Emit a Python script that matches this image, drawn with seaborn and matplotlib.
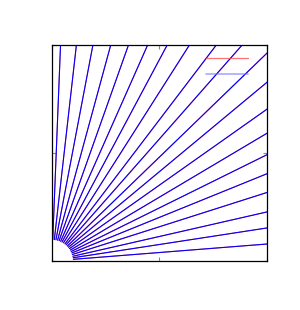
import numpy as np
import pandas as pd
import matplotlib
matplotlib.use("Agg")
import matplotlib.pyplot as plt
import seaborn as sns
from matplotlib.lines import Line2D

# ray angles (degrees)
angles_deg = [4.5, 8.7, 12.8, 17.6, 22.0, 26.2, 30.6, 35.1, 39.6, 43.9,
              48.5, 52.6, 57.4, 61.8, 66.0, 70.4, 74.7, 79.2, 83.5, 87.7]
r_inner = 0.1   # quarter circle where the rays start
r_outer = 1.6   # rays run past the frame
ticks = [0.0, 0.5, 1.0]

rows = []
for i, a in enumerate(angles_deg):
    t = np.deg2rad(a)
    for r in (r_inner, r_outer):
        rows.append({"ray": i, "x": r * np.cos(t), "y": r * np.sin(t)})
df = pd.DataFrame(rows)

sns.set_style("ticks")
fig = plt.figure(figsize=(3.0, 3.1), dpi=100)
ax = fig.add_axes([0.173, 0.158, 0.717, 0.697])

# red series underneath, blue on top
sns.lineplot(data=df, x="x", y="y", units="ray", estimator=None, sort=False,
             color="#ff4040", linewidth=0.7, ax=ax, legend=False)
sns.lineplot(data=df, x="x", y="y", units="ray", estimator=None, sort=False,
             color="#0000ff", linewidth=0.8, ax=ax, legend=False)

ax.set_xlim(0, 1)
ax.set_ylim(0, 1)
ax.set_xticks(ticks)
ax.set_yticks(ticks)
ax.set_xticklabels([])
ax.set_yticklabels([])
ax.set_xlabel("")
ax.set_ylabel("")
ax.tick_params(direction="in", top=True, right=True, length=3,
               color="#888888", width=0.8)
for s in ax.spines.values():
    s.set_visible(True)
    s.set_linewidth(0.9)
    s.set_color("black")

handles = [Line2D([], [], color="#ff5050", linewidth=0.9, alpha=0.8),
           Line2D([], [], color="#7070ff", linewidth=1.2, alpha=0.6)]
ax.legend(handles, ["", ""], loc="upper right", frameon=False,
          handlelength=3.0, labelspacing=0.15, borderaxespad=0.2,
          handletextpad=0.9, borderpad=0.3)

fig.savefig("out.png", dpi=100)
